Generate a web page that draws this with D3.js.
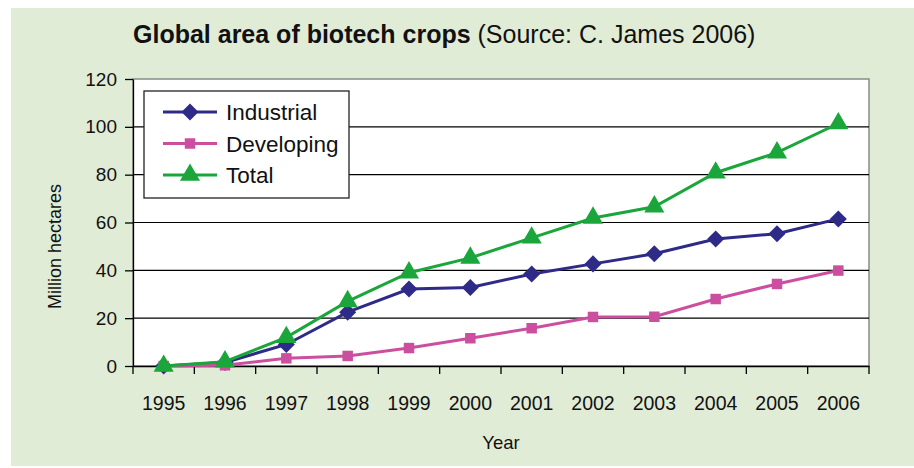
<!DOCTYPE html>
<html lang="en">
<head>
  <meta charset="UTF-8">
  <title>Global area of biotech crops</title>
  <script src="https://d3js.org/d3.v7.min.js"></script>
  <style>
    body { margin: 0; background: #fff; }
    svg { font-family: "Liberation Sans", Arial, sans-serif; display: block; }
  </style>
</head>
<body>

<div id="chart"></div>

<script>
  // Data (million hectares)
  const years = ["1995", "1996", "1997", "1998", "1999", "2000", "2001", "2002", "2003", "2004", "2005", "2006"];
  const industrial = [0, 1.5, 9, 22.5, 32.2, 32.8, 38.5, 42.7, 46.9, 53.1, 55.3, 61.5];
  const developing = [0, 0.3, 3.2, 4.2, 7.5, 11.6, 15.8, 20.5, 20.6, 28.0, 34.3, 39.9];
  const total = [0, 1.8, 12, 27, 39, 45.2, 53.6, 61.9, 66.6, 80.8, 89.2, 101.4];
  const yTicks = [0, 20, 40, 60, 80, 100, 120];

  const series = [
    { name: "Industrial", values: industrial, color: "#2e2a87", symbol: d3.symbolDiamond2, size: 185 },
    { name: "Developing", values: developing, color: "#cc4f9f", symbol: d3.symbolSquare, size: 110 },
    { name: "Total", values: total, color: "#1aa63a", symbol: d3.symbolTriangle, size: 175 }
  ];

  const width = 914, height = 468;
  const plotL = 133, plotR = 869, plotT = 79, plotB = 366;

  const svg = d3.select("#chart").append("svg")
    .attr("width", width)
    .attr("height", height);

  // green background panel
  svg.append("rect")
    .attr("x", 11).attr("y", 8)
    .attr("width", width - 11).attr("height", height - 10)
    .attr("fill", "#e1ecd7");

  const x = d3.scaleBand().domain(years).range([plotL, plotR]).padding(0);
  const y = d3.scaleLinear().domain([0, 120]).range([plotB, plotT]);

  // plot area
  svg.append("rect")
    .attr("x", plotL).attr("y", plotT)
    .attr("width", plotR - plotL).attr("height", plotB - plotT)
    .attr("fill", "#fff")
    .attr("stroke", "#8a8a8a")
    .attr("stroke-width", 1.5);

  // gridlines
  svg.append("g").selectAll("line")
    .data(yTicks.filter(d => d > 0 && d < 120))
    .join("line")
    .attr("x1", plotL).attr("x2", plotR)
    .attr("y1", d => y(d)).attr("y2", d => y(d))
    .attr("stroke", "#000")
    .attr("stroke-width", 1.2);

  // y axis
  const yAxis = svg.append("g")
    .attr("transform", `translate(${plotL},0)`)
    .call(d3.axisLeft(y).tickValues(yTicks).tickSize(8).tickPadding(8).tickSizeOuter(0));
  yAxis.selectAll("text").attr("font-size", 19).attr("font-family", "Liberation Sans, Arial").attr("fill", "#111");
  yAxis.selectAll("line, path").attr("stroke", "#000").attr("stroke-width", 1.3);

  // x axis: labels at band centres, ticks at band edges
  const xAxis = svg.append("g")
    .attr("transform", `translate(0,${plotB})`)
    .call(d3.axisBottom(x).tickSize(0).tickPadding(30));
  xAxis.select("path").attr("stroke", "#000").attr("stroke-width", 1.3);
  xAxis.selectAll("text").attr("font-size", 19.5).attr("font-family", "Liberation Sans, Arial").attr("fill", "#111");
  xAxis.selectAll("line.edge")
    .data(years.concat(["end"]))
    .join("line")
    .attr("class", "edge")
    .attr("x1", (d, i) => plotL + i * x.step())
    .attr("x2", (d, i) => plotL + i * x.step())
    .attr("y1", 0).attr("y2", 8)
    .attr("stroke", "#000").attr("stroke-width", 1.3);

  // lines and markers
  const line = d3.line()
    .x((d, i) => x(years[i]) + x.bandwidth() / 2)
    .y(d => y(d));

  series.forEach(s => {
    svg.append("path")
      .datum(s.values)
      .attr("d", line)
      .attr("fill", "none")
      .attr("stroke", s.color)
      .attr("stroke-width", 3);
    svg.append("g").selectAll("path")
      .data(s.values)
      .join("path")
      .attr("transform", (d, i) => `translate(${x(years[i]) + x.bandwidth() / 2},${y(d)})`)
      .attr("d", d3.symbol(s.symbol, s.size))
      .attr("fill", s.color);
  });

  // legend
  const legend = svg.append("g");
  legend.append("rect")
    .attr("x", 144).attr("y", 91)
    .attr("width", 205).attr("height", 107)
    .attr("fill", "#fff")
    .attr("stroke", "#222")
    .attr("stroke-width", 1.3);
  const rows = legend.selectAll("g")
    .data(series)
    .join("g")
    .attr("transform", (d, i) => `translate(0,${112 + i * 31.5})`);
  rows.append("line")
    .attr("x1", 163).attr("x2", 217)
    .attr("stroke", d => d.color)
    .attr("stroke-width", 3);
  rows.append("path")
    .attr("transform", "translate(190,0)")
    .attr("d", d => d3.symbol(d.symbol, d.size)())
    .attr("fill", d => d.color);
  rows.append("text")
    .attr("x", 226).attr("y", 8)
    .attr("font-size", 22.5)
    .attr("fill", "#111")
    .text(d => d.name);

  // title
  const title = svg.append("text")
    .attr("x", 133).attr("y", 43)
    .attr("font-size", 25)
    .attr("fill", "#111");
  title.append("tspan").attr("font-weight", "bold").text("Global area of biotech crops");
  title.append("tspan").text(" (Source: C. James 2006)");

  // axis titles
  svg.append("text")
    .attr("x", (plotL + plotR) / 2).attr("y", 449)
    .attr("text-anchor", "middle")
    .attr("font-size", 18.5)
    .attr("fill", "#111")
    .text("Year");

  svg.append("text")
    .attr("transform", `translate(61,${(plotT + plotB) / 2 + 24}) rotate(-90)`)
    .attr("text-anchor", "middle")
    .attr("font-size", 18)
    .attr("fill", "#111")
    .text("Million hectares");
</script>

</body>
</html>
